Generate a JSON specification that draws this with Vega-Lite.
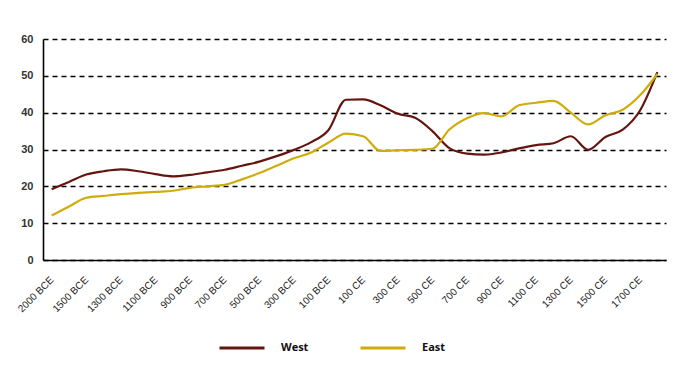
{
  "$schema": "https://vega.github.io/schema/vega-lite/v6.json",
  "autosize": {"type": "none"},
  "width": 623,
  "height": 221,
  "padding": {"left": 43, "top": 39, "right": 34, "bottom": 109},
  "background": "white",
  "config": {"view": {"stroke": null}},
  "data": {
    "values": [
      {"period": "2000 BCE", "year": -2000, "West": 19.2, "East": 12.1},
      {"period": "1750 BCE", "year": -1750, "West": 21.2, "East": 14.5},
      {"period": "1500 BCE", "year": -1500, "West": 23.2, "East": 16.9},
      {"period": "1400 BCE", "year": -1400, "West": 24.1, "East": 17.4},
      {"period": "1300 BCE", "year": -1300, "West": 24.6, "East": 17.9},
      {"period": "1200 BCE", "year": -1200, "West": 24.1, "East": 18.2},
      {"period": "1100 BCE", "year": -1100, "West": 23.3, "East": 18.5},
      {"period": "1000 BCE", "year": -1000, "West": 22.7, "East": 18.8},
      {"period": "900 BCE", "year": -900, "West": 23.1, "East": 19.6},
      {"period": "800 BCE", "year": -800, "West": 23.8, "East": 20.0},
      {"period": "700 BCE", "year": -700, "West": 24.5, "East": 20.4},
      {"period": "600 BCE", "year": -600, "West": 25.6, "East": 21.9},
      {"period": "500 BCE", "year": -500, "West": 26.7, "East": 23.6},
      {"period": "400 BCE", "year": -400, "West": 28.2, "East": 25.6},
      {"period": "300 BCE", "year": -300, "West": 29.9, "East": 27.6},
      {"period": "200 BCE", "year": -200, "West": 32.0, "East": 29.2},
      {"period": "100 BCE", "year": -100, "West": 35.3, "East": 31.9},
      {"period": "1 BCE/CE", "year": 0, "West": 43.5, "East": 34.3},
      {"period": "100 CE", "year": 100, "West": 43.6, "East": 33.6},
      {"period": "200 CE", "year": 200, "West": 42.0, "East": 29.6},
      {"period": "300 CE", "year": 300, "West": 39.7, "East": 29.8},
      {"period": "400 CE", "year": 400, "West": 38.6, "East": 29.9},
      {"period": "500 CE", "year": 500, "West": 35.0, "East": 30.2},
      {"period": "600 CE", "year": 600, "West": 30.3, "East": 35.5},
      {"period": "700 CE", "year": 700, "West": 28.9, "East": 38.5},
      {"period": "800 CE", "year": 800, "West": 28.6, "East": 39.9},
      {"period": "900 CE", "year": 900, "West": 29.2, "East": 39.0},
      {"period": "1000 CE", "year": 1000, "West": 30.3, "East": 42.0},
      {"period": "1100 CE", "year": 1100, "West": 31.2, "East": 42.7},
      {"period": "1200 CE", "year": 1200, "West": 31.7, "East": 43.2},
      {"period": "1300 CE", "year": 1300, "West": 33.6, "East": 40.0},
      {"period": "1400 CE", "year": 1400, "West": 29.9, "East": 36.8},
      {"period": "1500 CE", "year": 1500, "West": 33.4, "East": 39.3},
      {"period": "1600 CE", "year": 1600, "West": 35.4, "East": 40.8},
      {"period": "1700 CE", "year": 1700, "West": 40.6, "East": 44.7},
      {"period": "1800 CE", "year": 1800, "West": 51.0, "East": 50.5}
    ]
  },
  "transform": [{"fold": ["West", "East"], "as": ["region", "value"]}],
  "mark": {"type": "line", "strokeWidth": 2.2, "interpolate": "monotone"},
  "encoding": {
    "x": {
      "field": "period",
      "type": "ordinal",
      "sort": {"field": "year", "op": "min", "order": "ascending"},
      "scale": {"type": "point", "padding": 0.5},
      "axis": {
        "title": null,
        "values": ["2000 BCE", "1500 BCE", "1300 BCE", "1100 BCE", "900 BCE", "700 BCE", "500 BCE", "300 BCE", "100 BCE", "100 CE", "300 CE", "500 CE", "700 CE", "900 CE", "1100 CE", "1300 CE", "1500 CE", "1700 CE"],
        "labelAngle": -45,
        "labelAlign": "right",
        "labelBaseline": "middle",
        "labelPadding": 18,
        "labelFont": "Liberation Sans",
        "labelFontSize": 10,
        "labelColor": "#222",
        "ticks": false,
        "grid": false,
        "domainColor": "#000",
        "domainWidth": 1.6
      }
    },
    "y": {
      "field": "value",
      "type": "quantitative",
      "scale": {"domain": [0, 60], "nice": false, "zero": true},
      "axis": {
        "title": null,
        "values": [0, 10, 20, 30, 40, 50, 60],
        "ticks": false,
        "labelPadding": 10,
        "labelFont": "Liberation Sans",
        "labelFontSize": 11,
        "labelFontWeight": "bold",
        "labelColor": "#333",
        "grid": true,
        "gridColor": "#000",
        "gridDash": [5, 4],
        "gridWidth": 1.3,
        "domainColor": "#000",
        "domainWidth": 1.6
      }
    },
    "color": {
      "field": "region",
      "type": "nominal",
      "scale": {"domain": ["West", "East"], "range": ["#651510", "#D0AC0A"]},
      "legend": {
        "title": null,
        "orient": "none",
        "direction": "horizontal",
        "legendX": 175,
        "legendY": 285,
        "symbolType": "stroke",
        "symbolSize": 2025,
        "symbolStrokeWidth": 3,
        "labelOffset": 15,
        "columnPadding": 45,
        "labelFont": "Open Sans",
        "labelFontSize": 11,
        "labelFontWeight": "bold",
        "labelColor": "#111"
      }
    },
    "order": {"field": "year", "type": "quantitative"}
  }
}
